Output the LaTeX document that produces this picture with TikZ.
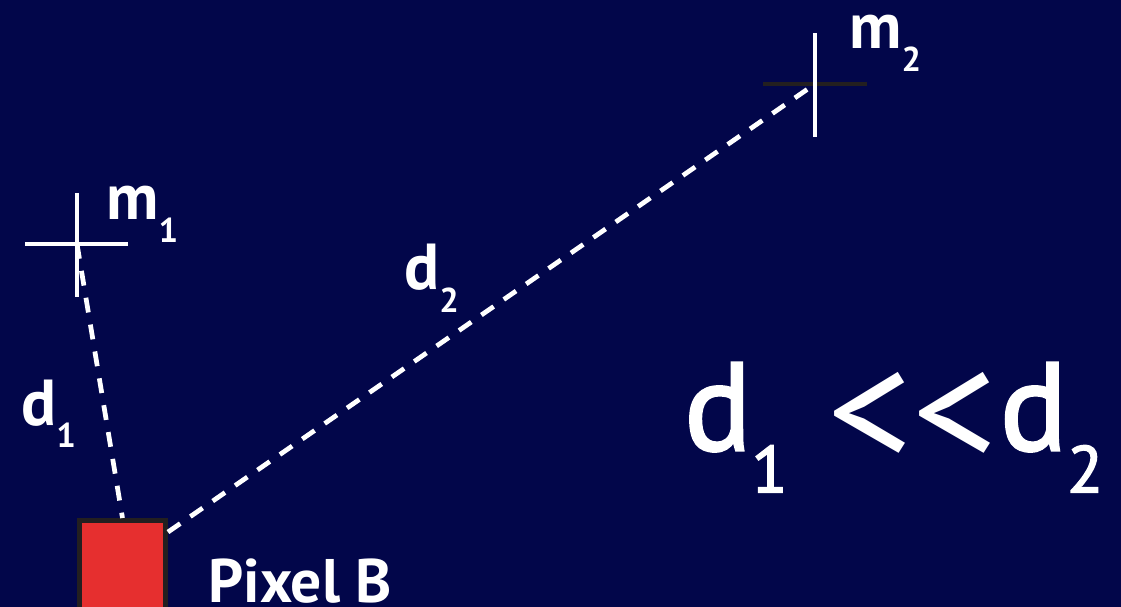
\documentclass[tikz,border=0pt]{standalone}
\usepackage{fontspec}
\setmainfont{PT Sans}
\newfontface\cmpface{PT Sans}[RawFeature={embolden=2.2}]
\newfontface\plainface{PT Sans}
\usetikzlibrary{positioning}
\definecolor{navy}{HTML}{02064A}
\definecolor{pixred}{HTML}{E62F2F}
\definecolor{edgegray}{HTML}{231F20}
\newcommand{\subidx}[1]{\raisebox{-0.34em}{\scalebox{0.53}{#1}}}
\newcommand{\bigless}{\raisebox{-0.14em}{\scalebox{1.35}{\plainface <}}}

\begin{document}
\begin{tikzpicture}[
  x=0.02cm, y=-0.02cm,
  cross/.style={line width=2.7pt},
  dist/.style={white, line width=2.7pt, dash pattern=on 8.5pt off 7pt},
  lbl/.style={white, inner sep=0pt, anchor=base west, font=\bfseries\fontsize{37}{40}\selectfont},
  pixelbox/.style={rectangle, draw=edgegray, line width=2.8pt, fill=pixred, minimum width=1.72cm, minimum height=2.6cm, anchor=north}
]
\fill[navy] (0,0) rectangle (1121,607);
\useasboundingbox (0,0) rectangle (1121,607);
\clip (0,0) rectangle (1121,607);

% centres of the two means
\coordinate (m1) at (77,244);
\coordinate (m2) at (815,84);
\node[pixelbox] (pixel) at (122.5,518) {};

% crosshairs
\draw[cross, white] (m1) ++(-52,0) -- ++(103,0);
\draw[cross, white] (m1) ++(0,-51) -- ++(0,104);
\draw[cross, edgegray] (m2) ++(-52,0) -- ++(104,0);
\draw[cross, white] (m2) ++(0,-51) -- ++(0,104);

% distances
\draw[dist] (m1) -- (pixel.north);
\draw[dist] ([yshift=-8pt]pixel.north east) -- (m2);

% labels
\node[lbl] (lm1) at (106,220) {m\subidx{1}};
\node[lbl] (lm2) at (849,49) {m\subidx{2}};
\node[lbl] (ld2) at (404,290) {d\subidx{2}};
\node[lbl] (ld1) at (21,425) {d\subidx{1}};
\node[lbl, font=\bfseries\fontsize{35}{38}\selectfont] (lpix) at (208,602) {Pixel B};
\node[lbl, font=\cmpface\fontsize{71}{74}\selectfont] (cmp) at (684,450) {d\subidx{1}\hspace{0.32em}\bigless\kern0pt\bigless\hspace{0.02em}d\subidx{2}};
\end{tikzpicture}
\end{document}
